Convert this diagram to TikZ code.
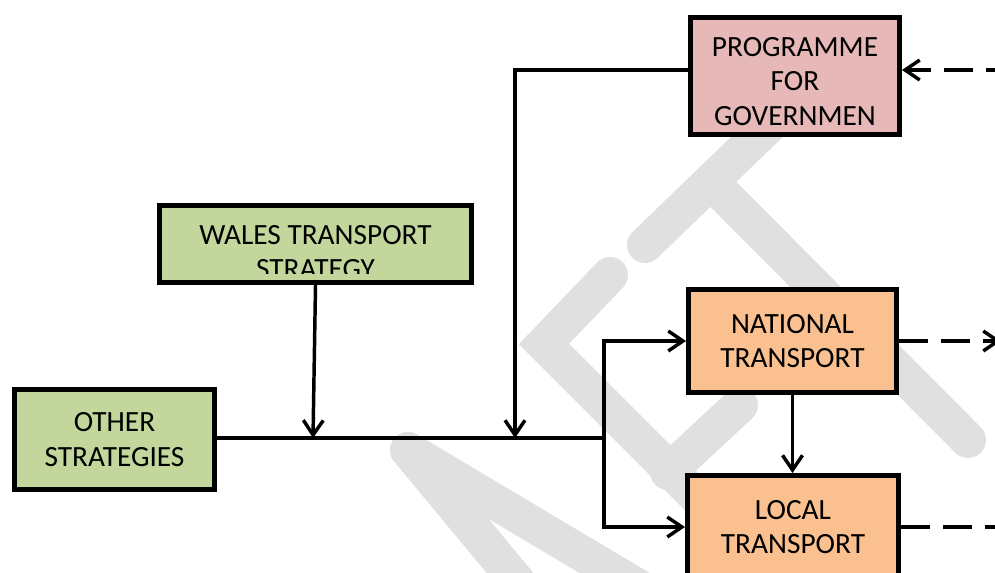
\documentclass[tikz,border=0pt]{standalone}
\usepackage{fontspec}
\setmainfont{Carlito}
\usetikzlibrary{arrows.meta}

\definecolor{govpink}{RGB}{230,185,184}
\definecolor{strgreen}{RGB}{195,214,155}
\definecolor{trorange}{RGB}{250,192,144}
\definecolor{wmgrey}{RGB}{224,224,224}

\tikzset{
  box/.style={draw=black,line width=3.75pt,align=center,inner sep=0pt,
    font=\fontsize{22}{26}\selectfont},
  link/.style={line width=2.6pt},
  tip/.style={-{Straight Barb[length=11pt,width=15pt]}},
  dashlink/.style={link,dash pattern=on 22pt off 9.5pt},
  wmark/.style={wmgrey,line width=27pt,line cap=round},
}

\begin{document}
\begin{tikzpicture}[x=0.75pt,y=-0.75pt]
  \useasboundingbox (0,0) rectangle (995,573);
  \clip (0,0) rectangle (995,573);

  % watermark
  \draw[wmark] (408,450) -- (520,585);
  \draw[wmark] (408,450) -- (660,600);
  \draw[wmark] (610,275) -- (544,344) -- (800,600);
  \draw[wmark] (668,472) -- (740,405);
  \draw[wmark] (645,245) -- (790,105);
  \draw[wmark] (724,195) -- (968,440);

  % boxes
  \node[box,fill=govpink,minimum width=156.75pt,minimum height=87.75pt,text height=74.5pt] (gov) at (795,76) {PROGRAMME\\FOR\\GOVERNMEN};
  \node[box,fill=strgreen,minimum width=234pt,minimum height=57.75pt] (wts) at (315.5,244) {};
  \begin{scope}
    \clip (158,204) rectangle (474,274);
    \node[align=center,inner sep=0pt,font=\fontsize{22}{26}\selectfont] (wtstext) at (315.5,252) {WALES TRANSPORT\\STRATEGY};
  \end{scope}
  \node[box,fill=strgreen,minimum width=150pt,minimum height=75pt] (other) at (114.5,439.5) {OTHER\\STRATEGIES};
  \node[box,fill=trorange,minimum width=156pt,minimum height=77.25pt] (natl) at (792.5,341) {NATIONAL\\TRANSPORT};
  \node[box,fill=trorange,minimum width=158.25pt,minimum height=77.25pt] (local) at (793,527) {LOCAL\\TRANSPORT};

  % connectors
  \coordinate (split) at (604,438);
  \coordinate (wtsin) at (313,438);
  \coordinate (govbend) at (515,70);
  \coordinate (govin) at (515,438);
  \draw[link] (other.east |- split) -- (split);
  \draw[link,tip] (wts.south) -- (wtsin);
  \draw[link,tip] (gov.west |- govbend) -- (govbend) -- (govin);
  \draw[link,tip] (split) |- (natl.west);
  \draw[link,tip] (split) |- (local.west);
  \draw[link,tip] (natl.south) -- (natl.south |- local.north);

  % dashed links off the page
  \coordinate (govfeed) at (1015,70);
  \coordinate (natlout) at (1001,341);
  \coordinate (localout) at (1030,527);
  \draw[dashlink,tip] (govfeed) -- (gov.east |- govfeed);
  \draw[dashlink,tip] (natl.east) -- (natlout);
  \draw[dashlink,tip] (local.east) -- (localout);
\end{tikzpicture}
\end{document}
